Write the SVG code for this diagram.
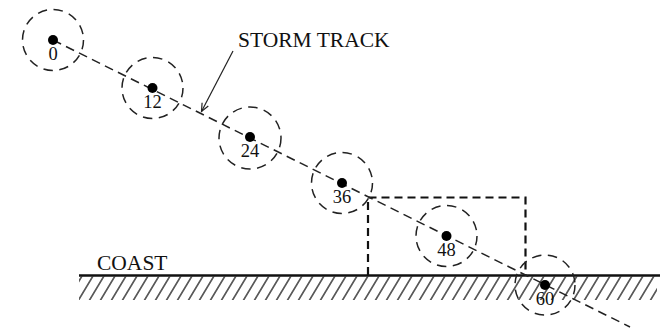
<svg xmlns="http://www.w3.org/2000/svg" width="663" height="333" viewBox="0 0 663 333">
  <style>
    .ring { fill: none; stroke: #222; stroke-width: 1.5; stroke-dasharray: 9.5 6.5; }
    .dot { fill: #000; }
    .num { font-family: "Liberation Serif", "Times New Roman", serif; font-size: 18.5px; fill: #111; text-anchor: middle; }
    .lbl { font-family: "Liberation Serif", "Times New Roman", serif; font-size: 21.5px; fill: #111; }
    .track { fill: none; stroke: #222; stroke-width: 1.5; stroke-dasharray: 9 5.5; }
    .box { fill: none; stroke: #111; stroke-width: 2.2; stroke-dasharray: 8 5; }
    .pointer { fill: none; stroke: #222; stroke-width: 1.2; }
  </style>
  <defs>
    <marker id="tip" markerWidth="10" markerHeight="10" refX="9" refY="4" orient="auto" markerUnits="userSpaceOnUse">
      <path d="M1,0.5 L9,4 L1,7.5" fill="none" stroke="#222" stroke-width="1.2"/>
    </marker>
    <pattern id="hatch" width="11" height="24" patternUnits="userSpaceOnUse" patternTransform="translate(0,276) skewX(-31)">
      <line x1="5" y1="0" x2="5" y2="24" stroke="#222" stroke-width="1.5"/>
    </pattern>
  </defs>

  <!-- coastline with hatched land -->
  <g id="coast">
    <rect x="79" y="276.5" width="578" height="23.5" fill="url(#hatch)"/>
    <line x1="79" y1="275.5" x2="660" y2="275.5" stroke="#111" stroke-width="2.4"/>
    <text class="lbl" x="97" y="270">COAST</text>
  </g>

  <!-- dashed box on the coast -->
  <g id="box">
    <path class="box" d="M368,275 V197.5 H525.5 V275"/>
  </g>

  <!-- storm track and its pointer -->
  <g id="connectors">
    <line class="track" x1="53" y1="40" x2="630" y2="327"/>
    <line class="pointer" x1="233" y1="51" x2="201.5" y2="111.5" marker-end="url(#tip)"/>
  </g>
  <g id="track-label">
    <text class="lbl" x="238" y="47">STORM TRACK</text>
  </g>

  <!-- storm positions by hour -->
  <g id="p0">
    <circle class="ring" cx="53" cy="40" r="30.5"/>
    <circle class="dot" cx="53" cy="40" r="5"/>
    <text class="num" x="53" y="60">0</text>
  </g>
  <g id="p12">
    <circle class="ring" cx="152.5" cy="88" r="30.5"/>
    <circle class="dot" cx="152.5" cy="88" r="5"/>
    <text class="num" x="152.5" y="108">12</text>
  </g>
  <g id="p24">
    <circle class="ring" cx="250" cy="138" r="31"/>
    <circle class="dot" cx="250" cy="137" r="5"/>
    <text class="num" x="250" y="157">24</text>
  </g>
  <g id="p36">
    <circle class="ring" cx="342" cy="183" r="30.5"/>
    <circle class="dot" cx="342" cy="183" r="5"/>
    <text class="num" x="342" y="203">36</text>
  </g>
  <g id="p48">
    <circle class="ring" cx="446.5" cy="236" r="30.5"/>
    <circle class="dot" cx="446.5" cy="236" r="5"/>
    <text class="num" x="446.5" y="256">48</text>
  </g>
  <g id="p60">
    <circle class="ring" cx="545" cy="285" r="30"/>
    <circle class="dot" cx="545" cy="285" r="5"/>
    <text class="num" x="545" y="305">60</text>
  </g>
</svg>
